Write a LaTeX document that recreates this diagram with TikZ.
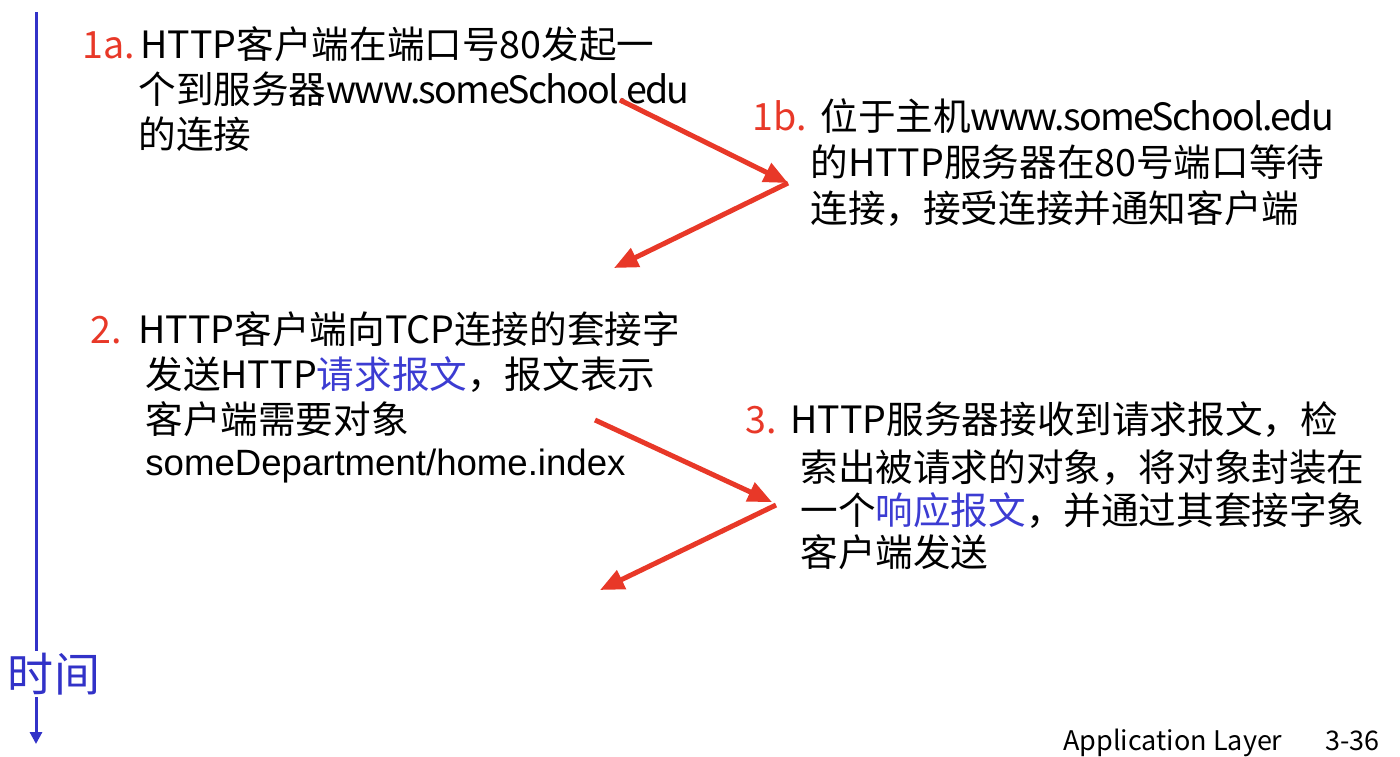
\documentclass[tikz,border=0pt]{standalone}
\usepackage{fontspec}
\setmainfont{Noto Sans CJK SC}
\newfontfamily\arialf{Liberation Sans}
\usetikzlibrary{arrows.meta}
\definecolor{myred}{RGB}{232,56,40}
\definecolor{myblue}{RGB}{50,50,200}
\definecolor{txtblue}{RGB}{60,60,210}
\newcommand{\tightlat}[1]{{\addfontfeature{LetterSpace=-4.5}#1}}
\begin{document}
\begin{tikzpicture}[x=0.5pt,y=-0.5pt,
  txt/.style={anchor=base west, inner sep=0pt, font=\fontsize{18.8}{23}\selectfont},
  lbl/.style={txt, text=myred},
  arr/.style={draw=myred, line width=2.5pt, -{Triangle[length=12pt,width=10pt]}}]
\useasboundingbox (0,0) rectangle (1400,756);
% time axis
\coordinate (ttop) at (36,12);
\coordinate (tbot) at (36,744);
\draw[myblue, line width=1.5pt, -{Triangle[length=6pt,width=6pt]}] (ttop) -- (tbot);
\node[fill=white, inner sep=1pt, text=myblue, font=\fontsize{23}{26}\selectfont] (time) at (54,674) {时间};
% 1a
\node[lbl] (l1a) at (82,58) {1a.};
\node[txt] (t1a1) at (140,58) {HTTP客户端在端口号80发起一};
\node[txt] (t1a2) at (138,103) {个到服务器\tightlat{www.someSchool.edu}};
\node[txt] (t1a3) at (138,148) {的连接};
% 1b
\node[lbl] (l1b) at (752,130) {1b.};
\node[txt] (t1b1) at (820,130) {位于主机\tightlat{www.someSchool.edu}};
\node[txt] (t1b2) at (810,176) {的HTTP服务器在80号端口等待};
\node[txt] (t1b3) at (810,222) {连接，接受连接并通知客户端};
% 2
\node[lbl] (l2) at (90,343) {2.};
\node[txt] (t21) at (138,343) {HTTP客户端向TCP连接的套接字};
\node[txt] (t22) at (145,388) {发送HTTP\textcolor{txtblue}{请求报文}，报文表示};
\node[txt] (t23) at (145,433) {客户端需要对象};
\node[txt, font=\arialf\fontsize{18.3}{22}\selectfont] (t24) at (145,475) {someDepartment/home.index};
% 3
\node[lbl] (l3) at (745,433) {3.};
\node[txt] (t31) at (790,433) {HTTP服务器接收到请求报文，检};
\node[txt] (t32) at (800,481) {索出被请求的对象，将对象封装在};
\node[txt] (t33) at (800,524) {一个\textcolor{txtblue}{响应报文}，并通过其套接字象};
\node[txt] (t34) at (800,566) {客户端发送};
% arrows
\coordinate (a1s) at (620,100);
\coordinate (a1e) at (788,183);
\coordinate (a2e) at (614,268);
\coordinate (a3s) at (595,420);
\coordinate (a3e) at (772,502);
\coordinate (a4s) at (776,505);
\coordinate (a4e) at (600,590);
\draw[arr] (a1s) -- (a1e);
\draw[arr] (a1e) -- (a2e);
\draw[arr] (a3s) -- (a3e);
\draw[arr] (a4s) -- (a4e);
% footer
\node[txt, font=\fontsize{13.5}{16}\selectfont] (foot) at (1063,750) {Application Layer};
\node[txt, font=\fontsize{13.5}{16}\selectfont] (page) at (1325,750) {3-36};
\end{tikzpicture}
\end{document}
